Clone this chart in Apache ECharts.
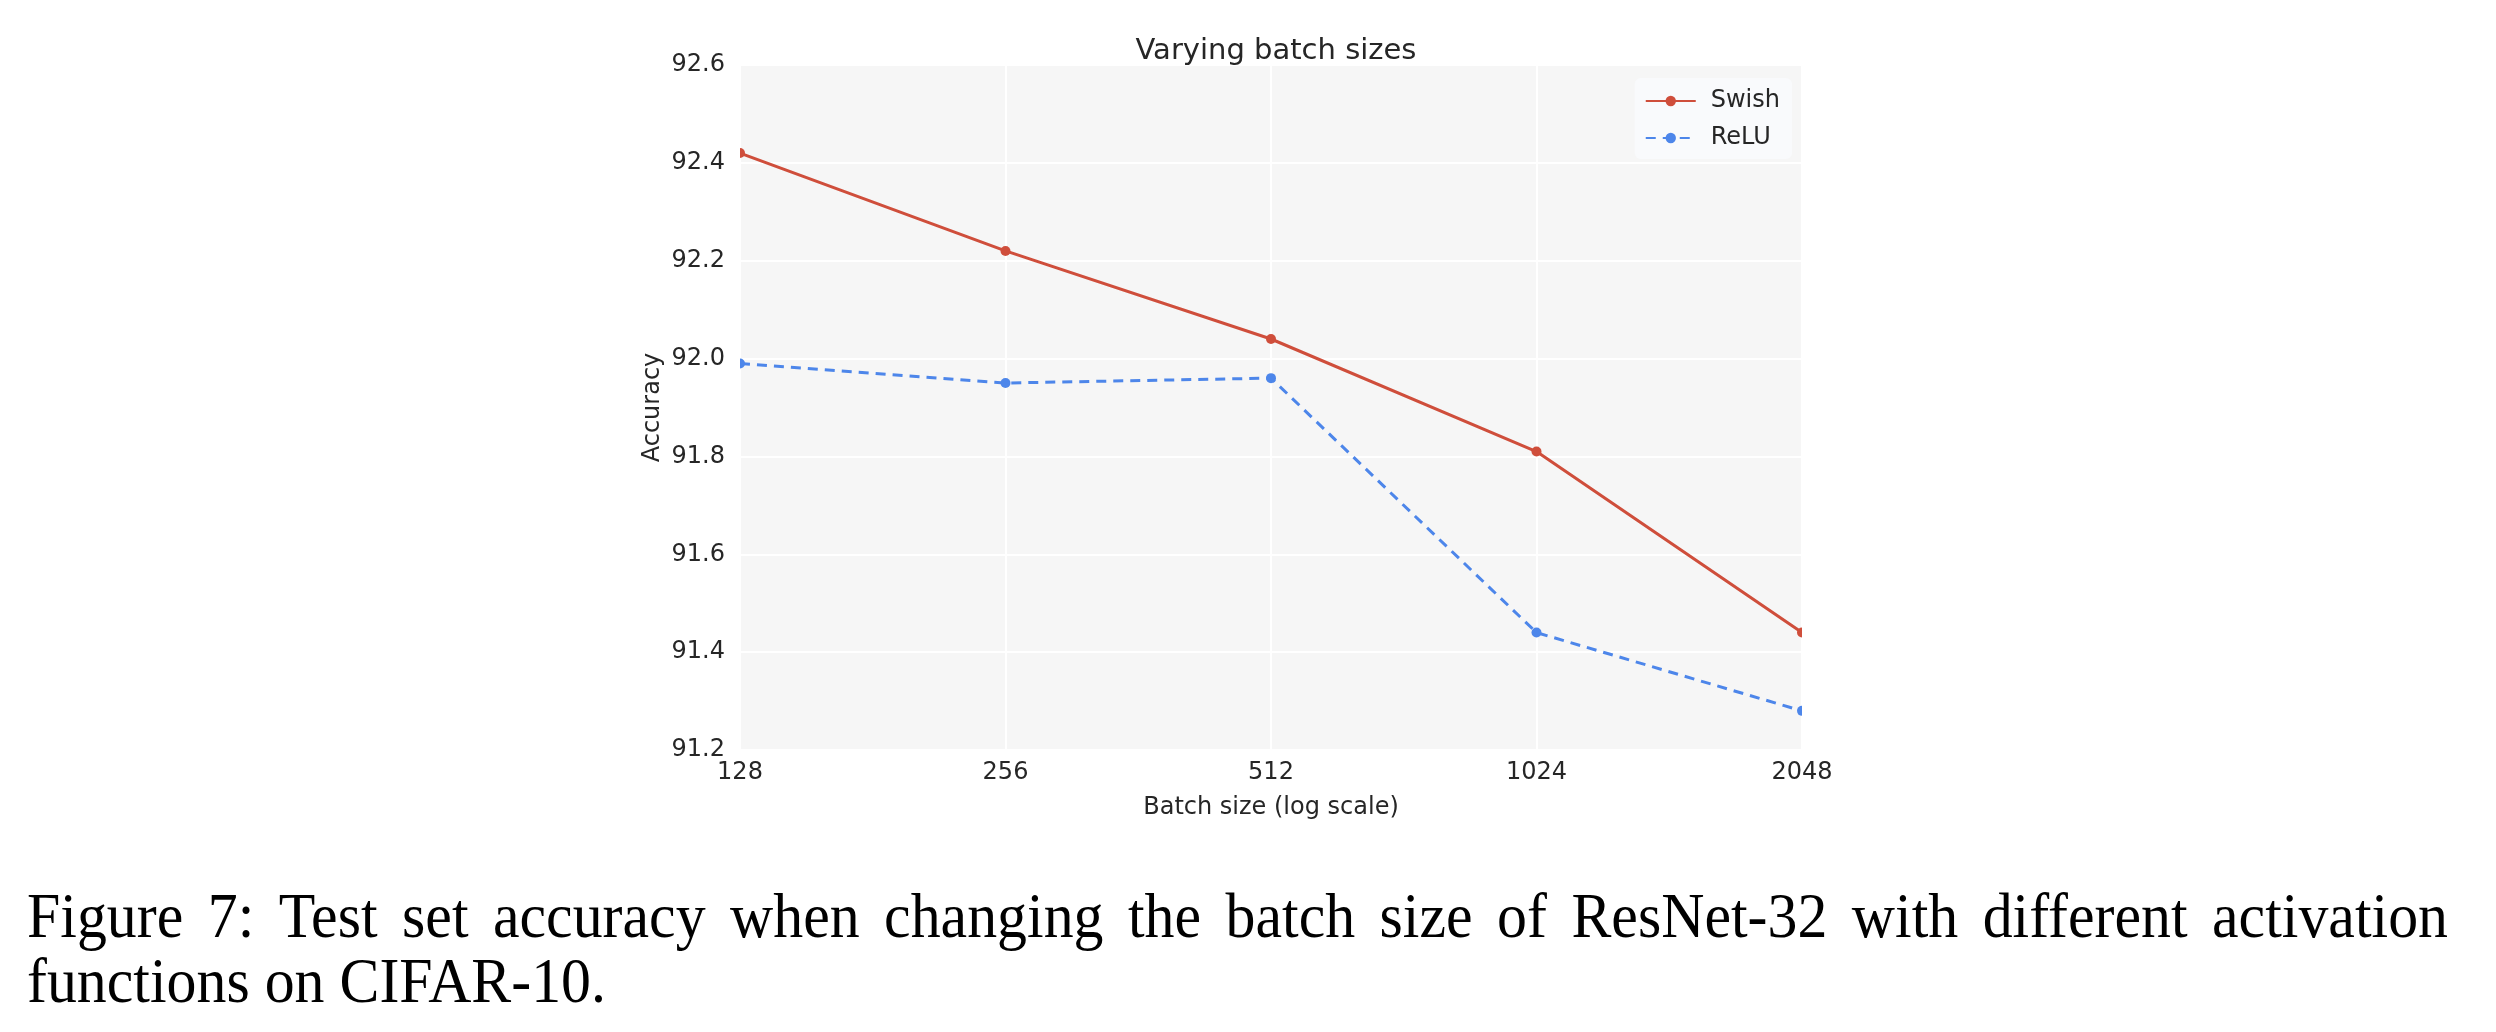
<!DOCTYPE html>
<html>
<head>
<meta charset="utf-8">
<script src="https://cdn.jsdelivr.net/npm/echarts@6/dist/echarts.min.js"></script>
<style>
html,body{margin:0;padding:0;background:#fff;}
#c{width:2496px;height:1032px;}
</style>
</head>
<body>
<div id="c"></div>
<script>
const batchSizes = [128, 256, 512, 1024, 2048];
const swishAcc = [92.42, 92.22, 92.04, 91.81, 91.44];
const reluAcc = [91.99, 91.95, 91.96, 91.44, 91.28];
const captionLines = [
  "Figure 7:  Test set accuracy when changing the batch size of ResNet-32 with different activation",
  "functions on CIFAR-10."
];

const chart = echarts.init(document.getElementById('c'), null, {renderer: 'canvas'});
const FONT = 'DejaVu Sans';
const CAP_FONT = 'Liberation Serif';
const CAP_SIZE = 64;
const CAP_SX = 0.935;
const TXT = '#262626';

const ctx = document.createElement('canvas').getContext('2d');
ctx.font = CAP_SIZE + 'px "' + CAP_FONT + '"';
const capLeft = 27, capRight = 2448;
const graphics = [
  {type: 'rect', shape: {x: 726, y: 60, width: 14, height: 692}, style: {fill: '#ffffff'}, z: 10},
  {type: 'rect', shape: {x: 1802, y: 60, width: 14, height: 692}, style: {fill: '#ffffff'}, z: 10}
];
function capText(str, x, y) {
  return {type: 'text', x: x, y: y, scaleX: CAP_SX, scaleY: 1,
    style: {text: str, font: CAP_SIZE + 'px "' + CAP_FONT + '"', fill: '#000', verticalAlign: 'middle'}};
}
captionLines.forEach((line, li) => {
  const y = 920 + li * 65;
  if (li === 0) {
    const words = line.split(/\s+/);
    const widths = words.map(w => ctx.measureText(w).width * CAP_SX);
    const total = widths.reduce((a, b) => a + b, 0);
    const gap = (capRight - capLeft - total) / (words.length - 1);
    let x = capLeft;
    words.forEach((w, i) => {
      graphics.push(capText(w, x, y));
      x += widths[i] + gap;
    });
  } else {
    graphics.push(capText(line, capLeft, y));
  }
});

const option = {
  backgroundColor: '#ffffff',
  animation: false,
  title: {
    text: 'Varying batch sizes',
    left: 1271, top: 32, textAlign: 'center',
    textStyle: {fontFamily: FONT, fontSize: 29, fontWeight: 'normal', color: TXT}
  },
  grid: {
    left: 740, right: 2496 - 1802, top: 65, bottom: 1032 - 750,
    show: true, backgroundColor: '#f6f6f6', borderWidth: 0,
    containLabel: false
  },
  legend: {
    orient: 'vertical',
    right: 2496 - 1792, top: 78,
    backgroundColor: '#f9fafc',
    borderRadius: 6,
    padding: [11, 12, 9, 10],
    itemWidth: 50, itemHeight: 13, itemGap: 13,
    textStyle: {fontFamily: FONT, fontSize: 24, color: TXT, padding: [0, 0, 0, 10]},
    data: ['Swish', 'ReLU']
  },
  xAxis: {
    type: 'log', logBase: 2, min: 128, max: 2048,
    name: 'Batch size (log scale)', nameLocation: 'middle', nameGap: 46,
    nameTextStyle: {fontFamily: FONT, fontSize: 24, color: TXT},
    axisLine: {show: false}, axisTick: {show: false},
    axisLabel: {fontFamily: FONT, fontSize: 24, color: TXT, margin: 11,
      formatter: v => String(Math.round(v)), showMinLabel: true, showMaxLabel: true},
    splitLine: {show: true, lineStyle: {color: '#ffffff', width: 2}},
    minorTick: {show: false}, minorSplitLine: {show: false}
  },
  yAxis: {
    type: 'value', min: 91.2, max: 92.6, interval: 0.2,
    name: 'Accuracy', nameLocation: 'middle', nameGap: 75,
    nameTextStyle: {fontFamily: FONT, fontSize: 24, color: TXT},
    axisLine: {show: false}, axisTick: {show: false},
    axisLabel: {fontFamily: FONT, fontSize: 24, color: TXT, margin: 15,
      formatter: v => (Math.round(v * 10) / 10).toFixed(1)},
    splitLine: {show: true, lineStyle: {color: '#ffffff', width: 2}}
  },
  graphic: graphics,
  series: [
    {
      name: 'Swish', type: 'line',
      data: batchSizes.map((b, i) => [b, swishAcc[i]]),
      symbol: 'circle', symbolSize: 10,
      itemStyle: {color: '#cf4e3b'},
      lineStyle: {color: '#cf4e3b', width: 3, type: 'solid'},
      clip: true, z: 3
    },
    {
      name: 'ReLU', type: 'line',
      data: batchSizes.map((b, i) => [b, reluAcc[i]]),
      symbol: 'circle', symbolSize: 10,
      itemStyle: {color: '#4d86ea'},
      lineStyle: {color: '#4d86ea', width: 3, type: [10, 7]},
      clip: true, z: 2
    }
  ]
};
chart.setOption(option);
</script>
</body>
</html>
